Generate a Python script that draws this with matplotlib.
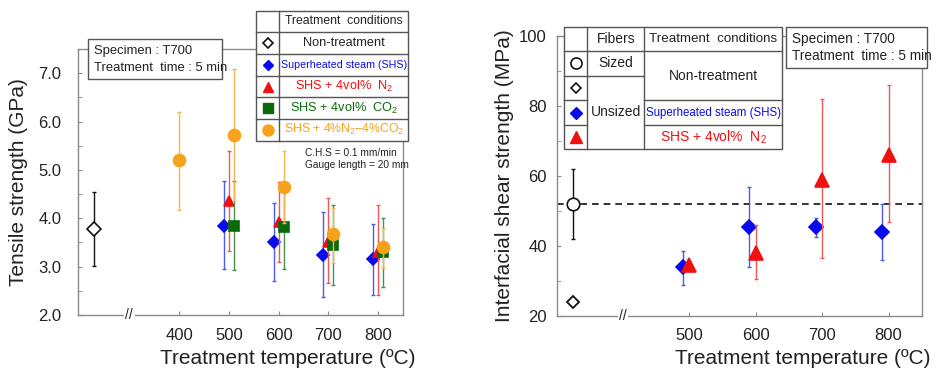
import matplotlib
matplotlib.use("Agg")
import matplotlib.pyplot as plt
from matplotlib.ticker import MultipleLocator, FixedLocator
from matplotlib.patches import Rectangle

plt.rcParams['font.family'] = ['Liberation Sans', 'DejaVu Sans']
plt.rcParams['mathtext.fontset'] = 'custom'
plt.rcParams['mathtext.rm'] = 'Liberation Sans'
plt.rcParams['mathtext.it'] = 'Liberation Sans:italic'

# ---------------- Data: left panel (tensile strength, GPa) ----------------
ts_nt_x = [230]
ts_nt_y = [3.78]
ts_nt_lo = [3.02]
ts_nt_hi = [4.55]

ts_shs_x = [490, 590, 690, 790]
ts_shs_y = [3.85, 3.50, 3.25, 3.15]
ts_shs_lo = [2.95, 2.70, 2.38, 2.42]
ts_shs_hi = [4.77, 4.32, 4.13, 3.88]

ts_n2_x = [500, 600, 700, 800]
ts_n2_y = [4.35, 3.93, 3.50, 3.30]
ts_n2_lo = [3.32, 3.10, 2.67, 2.42]
ts_n2_hi = [5.40, 4.75, 4.42, 4.27]

ts_co2_x = [510, 610, 710, 810]
ts_co2_y = [3.85, 3.82, 3.45, 3.30]
ts_co2_lo = [2.93, 2.95, 2.62, 2.57]
ts_co2_hi = [4.77, 4.75, 4.28, 4.00]

ts_mix_x = [400, 510, 610, 710, 810]
ts_mix_y = [5.20, 5.72, 4.65, 3.67, 3.40]
ts_mix_lo = [4.18, 4.35, 3.90, 3.07, 2.98]
ts_mix_hi = [6.20, 7.08, 5.40, 4.22, 3.80]

ts_xticks = [400, 500, 600, 700, 800]

# ---------------- Data: right panel (IFSS, MPa) ----------------
if_sized_x = [325]
if_sized_y = [52.0]
if_sized_lo = [42.0]
if_sized_hi = [62.0]

if_unsized_x = [325]
if_unsized_y = [24.0]

if_shs_x = [490, 590, 690, 790]
if_shs_y = [34.0, 45.5, 45.5, 44.0]
if_shs_lo = [29.0, 34.0, 42.5, 36.0]
if_shs_hi = [38.5, 57.0, 48.0, 52.0]

if_n2_x = [500, 600, 700, 800]
if_n2_y = [34.5, 38.0, 59.0, 66.0]
if_n2_lo = [33.5, 30.5, 36.5, 47.0]
if_n2_hi = [35.5, 46.0, 82.0, 86.0]

if_ref_line = 52.0
if_xticks = [500, 600, 700, 800]

# ---------------- Colours ----------------
BLUE, BLUE_E = '#0a0aee', '#4a5cf0'
RED, RED_E = '#f01010', '#f05858'
GREEN, GREEN_E = '#0b6b0b', '#4b8f4b'
ORANGE, ORANGE_E = '#f7a21b', '#f5b44e'
BLACK = '#111111'
SPINE = '#8a8a8a'
TXT = '#222222'

W, H = 942, 383
fig = plt.figure(figsize=(W / 100, H / 100), dpi=100)


def px_axes(l, t, r, b):
    return fig.add_axes([l / W, 1 - b / H, (r - l) / W, (b - t) / H])


def errpts(ax, x, y, lo, hi, color, ecolor, marker, ms, mfc=None, z=3):
    yerr = [[yy - l for yy, l in zip(y, lo)], [h - yy for yy, h in zip(y, hi)]]
    ax.errorbar(x, y, yerr=yerr, fmt='none', ecolor=ecolor, elinewidth=1.0,
                capsize=1.6, capthick=1.0, zorder=z)
    ax.plot(x, y, linestyle='none', marker=marker, ms=ms,
            mfc=color if mfc is None else mfc, mec=color, mew=1.2, zorder=z + 1)


def style_axes(ax):
    for s in ax.spines.values():
        s.set_color(SPINE)
        s.set_linewidth(1.0)
    ax.tick_params(which='both', direction='in', length=3, color=SPINE,
                   labelcolor=TXT, labelsize=12)


# ================= Left panel =================
axL = px_axes(78, 49, 403, 315)
style_axes(axL)
axL.set_xlim(197, 850)
axL.set_ylim(2.0, 7.5)
axL.yaxis.set_major_locator(MultipleLocator(1.0))
axL.yaxis.set_minor_locator(MultipleLocator(0.5))
axL.yaxis.set_major_formatter(matplotlib.ticker.FormatStrFormatter('%.1f'))
axL.xaxis.set_major_locator(FixedLocator(ts_xticks))
axL.tick_params(axis='y', pad=12)
axL.tick_params(axis='x', pad=9)

errpts(axL, ts_nt_x, ts_nt_y, ts_nt_lo, ts_nt_hi, BLACK, BLACK, 'D', 6.8, mfc='white')
errpts(axL, ts_shs_x, ts_shs_y, ts_shs_lo, ts_shs_hi, BLUE, BLUE_E, 'D', 6.0, z=3)
errpts(axL, ts_n2_x, ts_n2_y, ts_n2_lo, ts_n2_hi, RED, RED_E, '^', 7.4, z=5)
errpts(axL, ts_co2_x, ts_co2_y, ts_co2_lo, ts_co2_hi, GREEN, GREEN_E, 's', 7.8, z=7)
errpts(axL, ts_mix_x, ts_mix_y, ts_mix_lo, ts_mix_hi, ORANGE, ORANGE_E, 'o', 8.6, z=9)

axL.text(300, 2.0, '//', ha='center', va='center', fontsize=10, color=TXT,
         bbox=dict(boxstyle='square,pad=0.1', fc='white', ec='none'), zorder=20, clip_on=False)
axL.text(653, 5.46, 'C.H.S = 0.1 mm/min\nGauge length = 20 mm', fontsize=7.3,
         color=TXT, ha='left', va='top', linespacing=1.3)

axL.set_ylabel('Tensile strength (GPa)', fontsize=15, color=TXT)
axL.yaxis.set_label_coords(-0.155, 0.5)
axL.set_xlabel('Treatment temperature (ºC)', fontsize=15, color=TXT)
axL.xaxis.set_label_coords(0.645, -0.165)
axL.xaxis.label.set_va('center')

# ================= Right panel =================
axR = px_axes(556.7, 36, 921.7, 316)
style_axes(axR)
axR.set_xlim(300, 850)
axR.set_ylim(20, 100)
axR.yaxis.set_major_locator(MultipleLocator(20))
axR.yaxis.set_minor_locator(MultipleLocator(10))
axR.xaxis.set_major_locator(FixedLocator(if_xticks))
axR.tick_params(axis='y', pad=7)
axR.tick_params(axis='x', pad=9)

axR.axhline(if_ref_line, color=BLACK, lw=1.2, ls=(0, (4, 3)), zorder=2)
errpts(axR, if_sized_x, if_sized_y, if_sized_lo, if_sized_hi, BLACK, BLACK, 'o', 9, mfc='white')
axR.plot(if_unsized_x, if_unsized_y, linestyle='none', marker='D', ms=5.8,
         mfc='white', mec=BLACK, mew=1.3, zorder=4)
errpts(axR, if_shs_x, if_shs_y, if_shs_lo, if_shs_hi, BLUE, BLUE_E, 'D', 7.2, z=3)
errpts(axR, if_n2_x, if_n2_y, if_n2_lo, if_n2_hi, RED, RED_E, '^', 9.4, z=5)

axR.text(400, 20, '//', ha='center', va='center', fontsize=10, color=TXT,
         bbox=dict(boxstyle='square,pad=0.1', fc='white', ec='none'), zorder=20, clip_on=False)

axR.set_ylabel('Interfacial shear strength (MPa)', fontsize=15, color=TXT)
axR.yaxis.set_label_coords(-0.118, 0.5)
axR.set_xlabel('Treatment temperature (ºC)', fontsize=15, color=TXT)
axR.xaxis.set_label_coords(0.673, -0.15)
axR.xaxis.label.set_va('center')

# ================= Overlay (tables and boxes) =================
ov = fig.add_axes([0, 0, 1, 1], zorder=10)
ov.set_xlim(0, W)
ov.set_ylim(H, 0)
ov.axis('off')
ov.patch.set_alpha(0)

LC = '#555555'


def box(x0, y0, x1, y1):
    ov.add_patch(Rectangle((x0, y0), x1 - x0, y1 - y0, fc='white', ec=LC, lw=1.0))


def hline(y, x0, x1):
    ov.plot([x0, x1], [y, y], color=LC, lw=1.0)


def vline(x, y0, y1):
    ov.plot([x, x], [y0, y1], color=LC, lw=1.0)


# Left specimen box
box(88, 39, 222, 79.3)
ov.text(94, 51, 'Specimen : T700', fontsize=9.4, color=TXT, va='center')
ov.text(94, 68, 'Treatment  time : 5 min', fontsize=9.4, color=TXT, va='center')

# Left table
lx0, lx1, lx2 = 255.7, 279.3, 408.3
lrows = [10.7, 32.3, 54.0, 75.7, 97.3, 119.0, 140.7]
box(lx0, lrows[0], lx2, lrows[-1])
vline(lx1, lrows[0], lrows[-1])
for yy in lrows[1:-1]:
    hline(yy, lx0, lx2)
lmid = lambda i: (lrows[i] + lrows[i + 1]) / 2
cx = (lx1 + lx2) / 2
mx = (lx0 + lx1) / 2
ov.text(cx, lmid(0), 'Treatment  conditions', fontsize=8.8, color=TXT, ha='center', va='center')
ov.text(cx, lmid(1), 'Non-treatment', fontsize=9.2, color=TXT, ha='center', va='center')
ov.text(cx, lmid(2), 'Superheated steam (SHS)', fontsize=7.7, color=BLUE, ha='center', va='center')
ov.text(cx, lmid(3), 'SHS + 4vol%  N$_2$', fontsize=9.2, color=RED, ha='center', va='center')
ov.text(cx, lmid(4), 'SHS + 4vol%  CO$_2$', fontsize=9.2, color=GREEN, ha='center', va='center')
ov.text(cx, lmid(5), 'SHS + 4%N$_2$–4%CO$_2$', fontsize=8.8, color=ORANGE, ha='center', va='center')
ov.plot([mx], [lmid(1)], marker='D', ms=5.2, mfc='white', mec=BLACK, mew=1.2)
ov.plot([mx], [lmid(2)], marker='D', ms=5.6, mfc=BLUE, mec=BLUE)
ov.plot([mx], [lmid(3)], marker='^', ms=7.5, mfc=RED, mec=RED)
ov.plot([mx], [lmid(4)], marker='s', ms=7.5, mfc=GREEN, mec=GREEN)
ov.plot([mx], [lmid(5)], marker='o', ms=8, mfc=ORANGE, mec=ORANGE)

# Right specimen box
box(785.7, 26.7, 926.7, 67.7)
ov.text(792, 39, 'Specimen : T700', fontsize=9.8, color=TXT, va='center')
ov.text(792, 56, 'Treatment  time : 5 min', fontsize=9.8, color=TXT, va='center')

# Right table
rx0, rx1, rx2, rx3 = 564.3, 587.3, 644.3, 781.7
rrows = [26.7, 51.0, 75.7, 100.3, 125.0, 149.3]
box(rx0, rrows[0], rx3, rrows[-1])
vline(rx1, rrows[0], rrows[-1])
vline(rx2, rrows[0], rrows[-1])
hline(rrows[1], rx0, rx3)
hline(rrows[2], rx0, rx2)
hline(rrows[3], rx0, rx1)
hline(rrows[3], rx2, rx3)
hline(rrows[4], rx0, rx1)
hline(rrows[4], rx2, rx3)
rmid = lambda i: (rrows[i] + rrows[i + 1]) / 2
c2 = (rx1 + rx2) / 2
c3 = (rx2 + rx3) / 2
m1 = (rx0 + rx1) / 2
ov.text(c2, rmid(0), 'Fibers', fontsize=10, color=TXT, ha='center', va='center')
ov.text(c3, rmid(0), 'Treatment  conditions', fontsize=9.6, color=TXT, ha='center', va='center')
ov.text(c2, rmid(1), 'Sized', fontsize=10, color=TXT, ha='center', va='center')
ov.text(c3, (rrows[1] + rrows[3]) / 2, 'Non-treatment', fontsize=10, color=TXT, ha='center', va='center')
ov.text(c2, (rrows[2] + rrows[5]) / 2, 'Unsized', fontsize=10, color=TXT, ha='center', va='center')
ov.text(c3, rmid(3), 'Superheated steam (SHS)', fontsize=8.3, color=BLUE, ha='center', va='center')
ov.text(c3, rmid(4), 'SHS + 4vol%  N$_2$', fontsize=10, color=RED, ha='center', va='center')
ov.plot([m1], [rmid(1)], marker='o', ms=8, mfc='white', mec=BLACK, mew=1.2)
ov.plot([m1], [rmid(2)], marker='D', ms=5.2, mfc='white', mec=BLACK, mew=1.2)
ov.plot([m1], [rmid(3)], marker='D', ms=6.0, mfc=BLUE, mec=BLUE)
ov.plot([m1], [rmid(4)], marker='^', ms=8, mfc=RED, mec=RED)

fig.savefig('out.png', dpi=100)
